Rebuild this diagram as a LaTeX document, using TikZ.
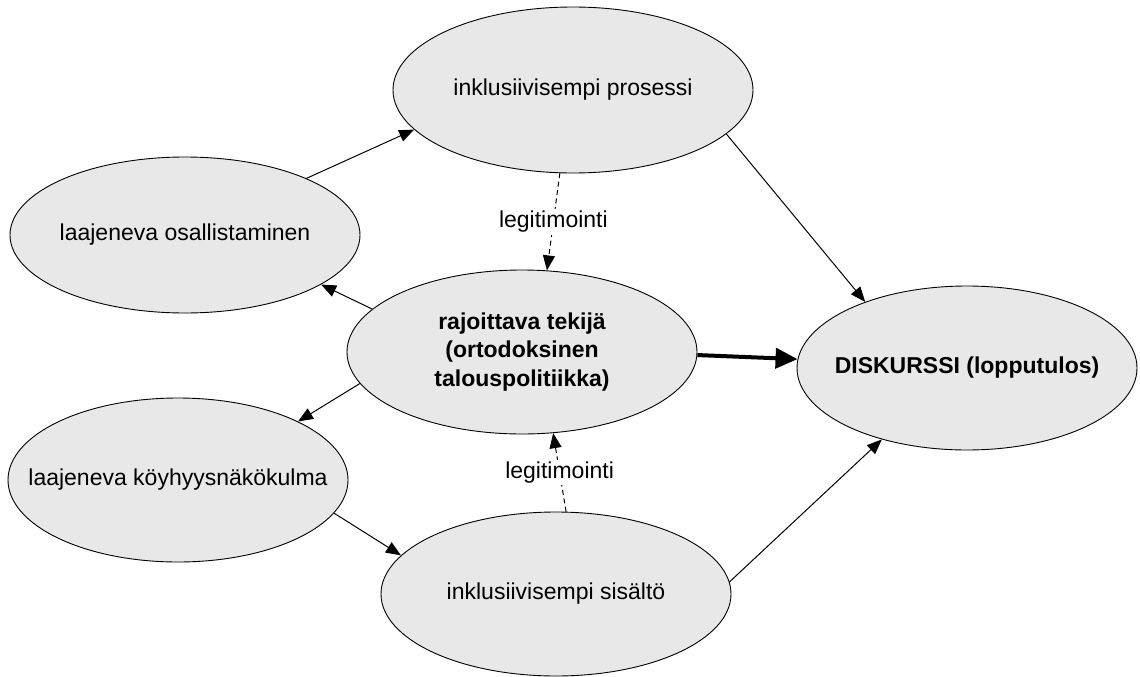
\documentclass[tikz,border=0pt]{standalone}
\usepackage{fontspec}
\setmainfont{Liberation Sans}
\usetikzlibrary{arrows.meta,shapes.geometric}
\definecolor{ellfill}{RGB}{232,232,232}
\begin{document}
\begin{tikzpicture}[x=1pt,y=-1pt,
  ell/.style={ellipse, draw=black, line width=0.9pt, fill=ellfill, inner sep=0pt,
    font=\fontsize{23}{28.5}\selectfont},
  conn/.style={line width=1pt, -{Triangle[length=15pt,width=12pt]}},
  thickconn/.style={line width=4pt, -{Triangle[length=22pt,width=20pt]}},
  dashconn/.style={line width=1pt, dash pattern=on 5pt off 3.5pt, -{Triangle[length=15pt,width=12pt]}},
  lbl/.style={fill=white, inner sep=2pt, font=\fontsize{23}{28.5}\selectfont}
]
\useasboundingbox (0,0) rectangle (1140,677);

\node[ell, minimum width=360pt, minimum height=166pt] (pros) at (573,90)
  {\makebox[0pt]{inklusiivisempi prosessi}};
\node[ell, minimum width=350pt, minimum height=156pt] (osal) at (185,235)
  {\makebox[0pt]{laajeneva osallistaminen}};
\node[ell, minimum width=350pt, minimum height=164pt] (raj) at (522,352)
  {\makebox[0pt]{\bfseries\begin{tabular}{@{}c@{}}rajoittava tekijä\\(ortodoksinen\\talouspolitiikka)\end{tabular}}};
\node[ell, minimum width=340pt, minimum height=164pt] (disk) at (967,368)
  {\makebox[0pt]{\bfseries DISKURSSI (lopputulos)}};
\node[ell, minimum width=340pt, minimum height=164pt] (koy) at (178,480)
  {\makebox[0pt]{laajeneva köyhyysnäkökulma}};
\node[ell, minimum width=350pt, minimum height=164pt] (sis) at (556,594)
  {\makebox[0pt]{inklusiivisempi sisältö}};

\draw[conn] (osal.25) -- (pros.194.9);
\draw[conn] (pros.-16.9) -- (disk.147.1);
\draw[conn] (raj.164.4) -- (osal.-20.8);
\draw[conn] (raj.191.6) -- (koy.26);
\draw[conn] (koy.-12) -- (sis.166.1);
\draw[conn] (sis.4) -- (disk.220.3);
\draw[thickconn] (raj.-1.3) -- (disk.177);
\draw[dashconn] (pros.261) -- node[lbl] (l1) {legitimointi} (raj.73);
\draw[dashconn] (sis.83.7) -- node[lbl] (l2) {legitimointi} (raj.-69.7);
\end{tikzpicture}
\end{document}
